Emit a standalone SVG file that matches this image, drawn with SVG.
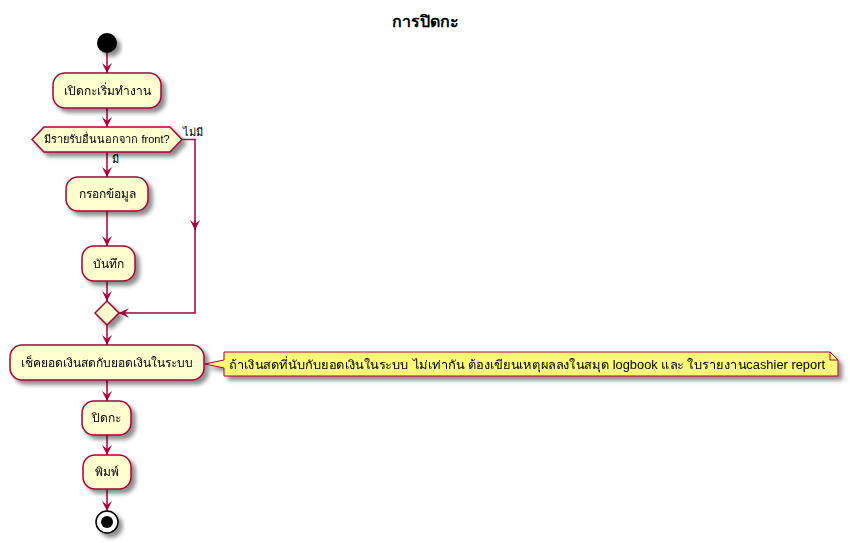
<svg xmlns="http://www.w3.org/2000/svg" width="850" height="543" viewBox="0 0 850 543">
<defs>
<filter id="sh" x="-20%" y="-20%" width="150%" height="160%">
<feGaussianBlur in="SourceAlpha" stdDeviation="2"/>
<feOffset dx="4" dy="4" result="b"/>
<feComponentTransfer><feFuncA type="linear" slope="0.45"/></feComponentTransfer>
<feMerge><feMergeNode/><feMergeNode in="SourceGraphic"/></feMerge>
</filter>
<marker id="ah" viewBox="0 0 10 12" refX="10" refY="6" markerWidth="10" markerHeight="12" markerUnits="userSpaceOnUse" orient="auto">
<path d="M0,1 L10,6 L0,11 L4,6 Z" fill="#A80036"/>
</marker>
</defs>
<style>
.act{fill:#FEFECE;stroke:#A80036;stroke-width:1.5}
.t{font-family:"Liberation Sans","DejaVu Sans",sans-serif;font-size:12px;fill:#000}
.s{font-family:"Liberation Sans","DejaVu Sans",sans-serif;font-size:11px;fill:#000}
.ln{fill:none;stroke:#A80036;stroke-width:1.5}
</style>
<rect width="850" height="543" fill="#FFFFFF"/>
<text x="425" y="27" text-anchor="middle" font-family="Liberation Sans, DejaVu Sans, sans-serif" font-size="16" font-weight="bold">การปิดกะ</text>

<g id="connectors">
<line class="ln" x1="107" y1="53" x2="107" y2="73" marker-end="url(#ah)"/>
<line class="ln" x1="107" y1="108" x2="107" y2="127" marker-end="url(#ah)"/>
<line class="ln" x1="107" y1="152" x2="107" y2="177" marker-end="url(#ah)"/>
<line class="ln" x1="107" y1="211" x2="107" y2="246" marker-end="url(#ah)"/>
<line class="ln" x1="107" y1="281" x2="107" y2="301" marker-end="url(#ah)"/>
<polyline class="ln" points="182,139.5 195,139.5 195,230"/>
<line class="ln" x1="195" y1="220" x2="195" y2="230" marker-end="url(#ah)"/>
<polyline class="ln" points="195,229 195,313 119,313" marker-end="url(#ah)"/>
<line class="ln" x1="107" y1="325" x2="107" y2="345" marker-end="url(#ah)"/>
<line class="ln" x1="107" y1="380" x2="107" y2="401" marker-end="url(#ah)"/>
<line class="ln" x1="107" y1="435" x2="107" y2="455" marker-end="url(#ah)"/>
<line class="ln" x1="107" y1="489" x2="107" y2="511" marker-end="url(#ah)"/>
<text class="s" x="183" y="136">ไม่มี</text>
<text class="s" x="112" y="163">มี</text>
</g>

<g id="start"><circle cx="107" cy="43" r="10" fill="#000" filter="url(#sh)"/></g>

<g id="a1" filter="url(#sh)"><rect class="act" x="53" y="73" width="108" height="35" rx="12"/><text class="t" x="107" y="95" text-anchor="middle">เปิดกะเริ่มทำงาน</text></g>

<g id="d1" filter="url(#sh)"><polygon class="act" points="32,139.5 44,127 170,127 182,139.5 170,152 44,152"/><text class="s" x="107" y="143" text-anchor="middle">มีรายรับอื่นนอกจาก front?</text></g>

<g id="a2" filter="url(#sh)"><rect class="act" x="66" y="177" width="82" height="34" rx="12"/><text class="t" x="107" y="198" text-anchor="middle">กรอกข้อมูล</text></g>

<g id="a3" filter="url(#sh)"><rect class="act" x="82" y="246" width="53" height="35" rx="12"/><text class="t" x="108" y="268" text-anchor="middle">บันทึก</text></g>

<g id="merge" filter="url(#sh)"><polygon class="act" points="95,313 107,301 119,313 107,325"/></g>

<g id="a4" filter="url(#sh)"><rect class="act" x="10" y="345" width="194" height="35" rx="12"/><text class="t" x="107" y="367" text-anchor="middle">เช็คยอดเงินสดกับยอดเงินในระบบ</text></g>

<g id="note" filter="url(#sh)"><path d="M224,352 L830,352 L838,360 L838,376 L224,376 L224,368 L205,364 L224,360 Z" fill="#FBFB77" stroke="#A80036" stroke-width="1"/><path d="M830,352 L830,360 L838,360" fill="none" stroke="#A80036" stroke-width="1"/><text class="t" x="229" y="369" textLength="596" lengthAdjust="spacingAndGlyphs">ถ้าเงินสดที่นับกับยอดเงินในระบบ ไม่เท่ากัน ต้องเขียนเหตุผลลงในสมุด logbook และ ใบรายงานcashier report</text></g>

<g id="a5" filter="url(#sh)"><rect class="act" x="82" y="401" width="49" height="34" rx="12"/><text class="t" x="106" y="422" text-anchor="middle">ปิดกะ</text></g>

<g id="a6" filter="url(#sh)"><rect class="act" x="83" y="455" width="48" height="34" rx="12"/><text class="t" x="107" y="476" text-anchor="middle">พิมพ์</text></g>

<g id="end" filter="url(#sh)"><circle cx="107" cy="522" r="11" fill="#FFF" stroke="#000" stroke-width="1.5"/><circle cx="107" cy="522" r="6" fill="#000"/></g>
</svg>
